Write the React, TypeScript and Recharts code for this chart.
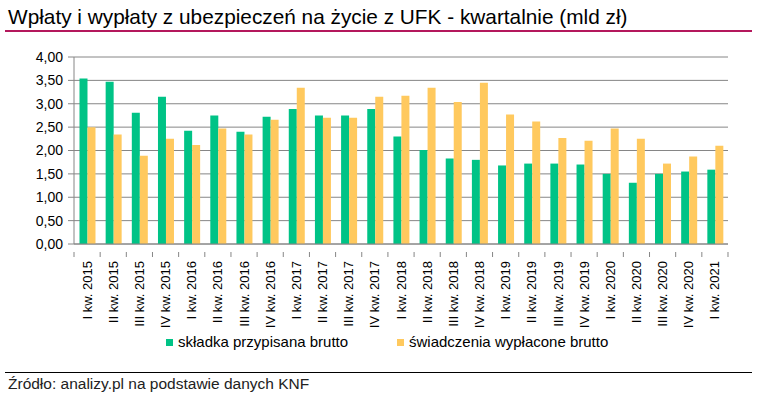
import React from 'react';
import { BarChart, Bar, XAxis, YAxis, CartesianGrid } from 'recharts';

// kwartały
const quarters = [
  'I kw. 2015', 'II kw. 2015', 'III kw. 2015', 'IV kw. 2015',
  'I kw. 2016', 'II kw. 2016', 'III kw. 2016', 'IV kw. 2016',
  'I kw. 2017', 'II kw. 2017', 'III kw. 2017', 'IV kw. 2017',
  'I kw. 2018', 'II kw. 2018', 'III kw. 2018', 'IV kw. 2018',
  'I kw. 2019', 'II kw. 2019', 'III kw. 2019', 'IV kw. 2019',
  'I kw. 2020', 'II kw. 2020', 'III kw. 2020', 'IV kw. 2020',
  'I kw. 2021',
];

// mld zł
const premiums = [
  3.54, 3.47, 2.81, 3.15, 2.42, 2.75, 2.40, 2.72,
  2.89, 2.75, 2.75, 2.89, 2.30, 2.01, 1.83, 1.80,
  1.68, 1.72, 1.72, 1.70, 1.50, 1.31, 1.50, 1.55,
  1.59,
];

const benefits = [
  2.50, 2.34, 1.89, 2.25, 2.12, 2.47, 2.34, 2.66,
  3.34, 2.70, 2.70, 3.15, 3.17, 3.34, 3.04, 3.45,
  2.77, 2.62, 2.27, 2.21, 2.47, 2.25, 1.72, 1.87,
  2.10,
];

const yTicks = [0, 0.5, 1, 1.5, 2, 2.5, 3, 3.5, 4];

const GREEN = '#00c386';
const YELLOW = '#ffc95e';
const GRID = '#868686';
const FONT = '"Liberation Sans", Arial, sans-serif';

const data = quarters.map((q, i) => ({
  quarter: q,
  premium: premiums[i],
  benefit: benefits[i],
}));

const PLOT_LEFT = 74;
const PLOT_RIGHT = 728;
const PLOT_TOP = 57;
const PLOT_BOTTOM = 244;
const BAND = (PLOT_RIGHT - PLOT_LEFT) / quarters.length;

const QuarterTick = (props: any) => {
  const { x, y, payload } = props;
  return (
    <g transform={`translate(${x},${y})`}>
      <line x1={-BAND / 2} x2={-BAND / 2} y1={0} y2={5} stroke={GRID} />
      {payload.index === quarters.length - 1 && (
        <line x1={BAND / 2} x2={BAND / 2} y1={0} y2={5} stroke={GRID} />
      )}
      <text
        transform="rotate(-90)"
        x={-9}
        y={0}
        dy="0.35em"
        textAnchor="end"
        fontSize={13}
        fontFamily={FONT}
        fill="#000"
      >
        {payload.value}
      </text>
    </g>
  );
};

export default function App() {
  return (
    <div style={{ position: 'absolute', left: 0, top: 0, width: 757, height: 395, background: '#fff', fontFamily: FONT }}>
      <div style={{ position: 'absolute', left: 8, top: 5, fontSize: 20.8, lineHeight: '24px', color: '#000', whiteSpace: 'nowrap' }}>
        Wpłaty i wypłaty z ubezpieczeń na życie z UFK - kwartalnie (mld zł)
      </div>
      <div style={{ position: 'absolute', left: 5, top: 30, width: 747, height: 2, background: '#b4185c' }} />

      <BarChart
        width={757}
        height={330}
        data={data}
        margin={{ top: PLOT_TOP, right: 757 - PLOT_RIGHT, left: 0, bottom: 330 - PLOT_BOTTOM - 80 }}
        barCategoryGap="21%"
        barGap={0}
      >
        <CartesianGrid vertical={false} stroke={GRID} />
        <XAxis
          dataKey="quarter"
          interval={0}
          height={80}
          axisLine={{ stroke: GRID }}
          tickLine={false}
          tick={<QuarterTick />}
        />
        <YAxis
          width={PLOT_LEFT}
          domain={[0, 4]}
          ticks={yTicks}
          interval={0}
          axisLine={{ stroke: GRID }}
          tickLine={{ stroke: GRID }}
          tickSize={6}
          tickMargin={5}
          tickFormatter={(v: number) => v.toFixed(2).replace('.', ',')}
          tick={{ fontSize: 14, fill: '#000', fontFamily: FONT }}
        />
        <Bar dataKey="premium" name="składka przypisana brutto" fill={GREEN} isAnimationActive={false} />
        <Bar dataKey="benefit" name="świadczenia wypłacone brutto" fill={YELLOW} isAnimationActive={false} />
      </BarChart>

      <div style={{ position: 'absolute', left: 166, top: 333, display: 'flex', fontSize: 15, lineHeight: '18px', color: '#000', whiteSpace: 'nowrap' }}>
        <span style={{ display: 'flex', alignItems: 'center', width: 231 }}>
          <span style={{ width: 7, height: 7, background: GREEN, marginRight: 5 }} />
          składka przypisana brutto
        </span>
        <span style={{ display: 'flex', alignItems: 'center' }}>
          <span style={{ width: 7, height: 7, background: YELLOW, marginRight: 5 }} />
          świadczenia wypłacone brutto
        </span>
      </div>

      <div style={{ position: 'absolute', left: 5, top: 372, width: 747, height: 1, background: '#000' }} />
      <div style={{ position: 'absolute', left: 8, top: 375, fontSize: 15.5, lineHeight: '18px', color: '#222', whiteSpace: 'nowrap' }}>
        Źródło: analizy.pl na podstawie danych KNF
      </div>
    </div>
  );
}
